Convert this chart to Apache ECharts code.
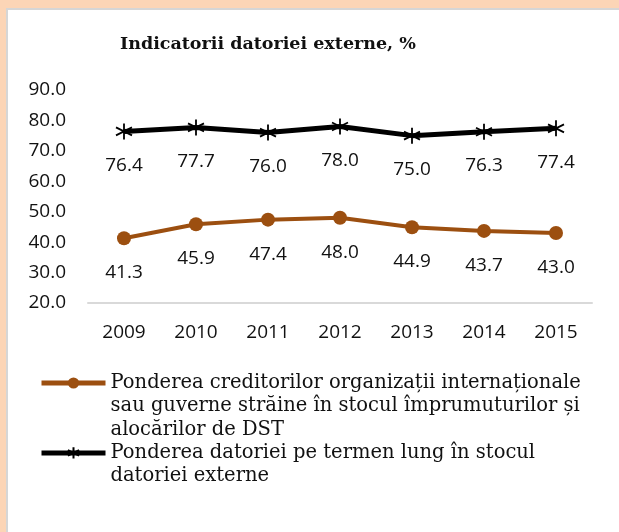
<!DOCTYPE html>
<html>
<head>
<meta charset="utf-8">
<script src="https://cdn.jsdelivr.net/npm/echarts@6/dist/echarts.min.js"></script>
<style>
  html, body { margin: 0; padding: 0; }
  #chart { width: 619px; height: 532px; }
</style>
</head>
<body>
<div id="chart"></div>
<script>
var years = ['2009', '2010', '2011', '2012', '2013', '2014', '2015'];
var creditori = [41.3, 45.9, 47.4, 48.0, 44.9, 43.7, 43.0];
var termenLung = [76.4, 77.7, 76.0, 78.0, 75.0, 76.3, 77.4];
var numeCreditori = 'Ponderea creditorilor organizații internaționale\nsau guverne străine în stocul împrumuturilor și\nalocărilor de DST';
var numeTermen = 'Ponderea datoriei pe termen lung în stocul\ndatoriei externe';

var serifFont = '"DejaVu Serif", serif';
var sansFont = '"Open Sans", sans-serif';
var lh = 23.3;

var chart = echarts.init(document.getElementById('chart'));

// asterisk marker: vertical bar + X
var starPath = 'path://M0,-10L0,10M-8.66,-5L8.66,5M-8.66,5L8.66,-5';

var option = {
    backgroundColor: '#fcd5b6',
    animation: false,
    graphic: [{
        type: 'rect',
        z: -10,
        shape: { x: 7, y: 9, width: 620, height: 530 },
        style: { fill: '#fff', stroke: '#d6d6d6', lineWidth: 2 }
    }],
    title: {
        text: 'Indicatorii datoriei externe, %',
        left: 120,
        top: 35,
        padding: 0,
        textStyle: {
            fontFamily: serifFont,
            fontWeight: 'bold',
            fontSize: 17.5,
            color: '#111'
        }
    },
    grid: {
        left: 88,
        right: 27,
        top: 90,
        bottom: 229
    },
    xAxis: {
        type: 'category',
        data: years,
        axisLine: { lineStyle: { color: '#d9d9d9', width: 2 } },
        axisTick: { show: false },
        axisLabel: {
            margin: 20,
            fontFamily: sansFont,
            fontSize: 19,
            color: '#111'
        }
    },
    yAxis: {
        type: 'value',
        min: 20,
        max: 90,
        interval: 10,
        splitLine: { show: false },
        axisLine: { show: false },
        axisTick: { show: false },
        axisLabel: {
            margin: 22,
            fontFamily: sansFont,
            fontSize: 19,
            color: '#111',
            formatter: function (v) { return v.toFixed(1); }
        }
    },
    legend: {
        orient: 'vertical',
        left: 39,
        top: 383 - 2.5 * lh,
        padding: 0,
        itemGap: -lh,
        itemWidth: 64,
        itemHeight: 14,
        lineStyle: { width: 5 },
        textStyle: {
            fontFamily: serifFont,
            fontSize: 19.5,
            lineHeight: lh,
            color: '#111'
        },
        // empty lines above so the icon sits beside the first text line
        formatter: function (name) {
            return name === numeCreditori ? '\n\n' + name : '\n' + name;
        },
        data: [numeCreditori, numeTermen]
    },
    series: [
        {
            name: numeCreditori,
            type: 'line',
            data: creditori,
            symbol: 'circle',
            symbolSize: 14,
            lineStyle: { color: '#9c4f10', width: 4 },
            itemStyle: { color: '#9c4f10' },
            label: {
                show: true,
                position: 'bottom',
                distance: 18,
                fontFamily: sansFont,
                fontSize: 19,
                color: '#111',
                formatter: function (p) { return p.value.toFixed(1); }
            }
        },
        {
            name: numeTermen,
            type: 'line',
            data: termenLung,
            symbol: starPath,
            symbolSize: 16,
            lineStyle: { color: '#000', width: 5 },
            itemStyle: { color: '#000', borderColor: '#000', borderWidth: 1.8 },
            label: {
                show: true,
                position: 'bottom',
                distance: 16,
                fontFamily: sansFont,
                fontSize: 19,
                color: '#111',
                formatter: function (p) { return p.value.toFixed(1); }
            }
        }
    ]
};

chart.setOption(option);
</script>
</body>
</html>
